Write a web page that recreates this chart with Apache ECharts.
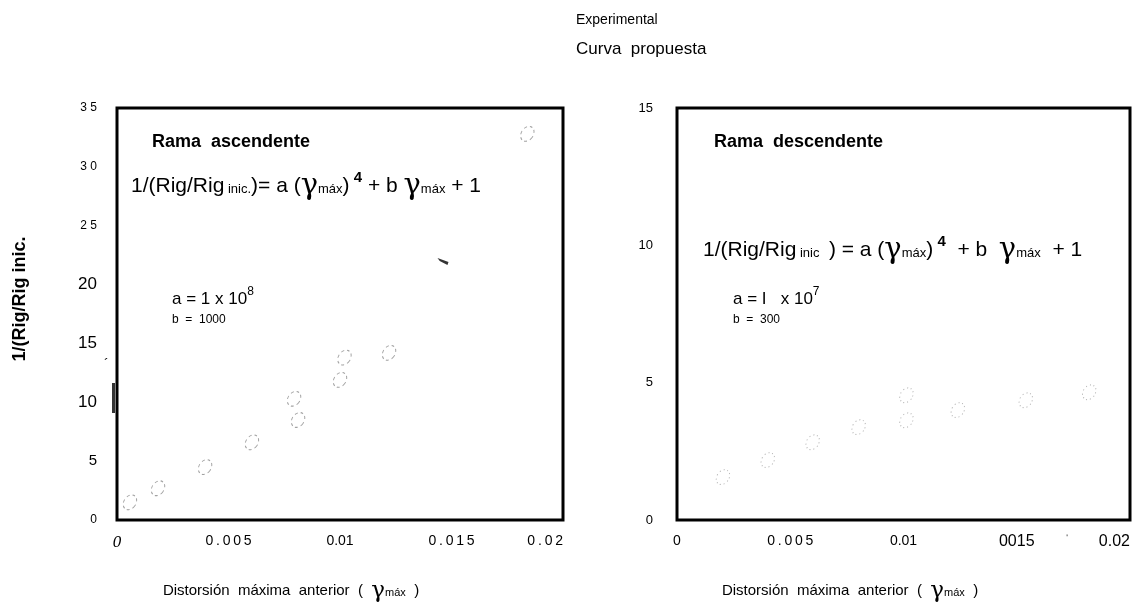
<!DOCTYPE html>
<html>
<head>
<meta charset="utf-8">
<script src="https://cdn.jsdelivr.net/npm/echarts@6/dist/echarts.min.js"></script>
<style>
html,body{margin:0;padding:0;background:#fff;}
#chart{width:1142px;height:608px;}
</style>
</head>
<body>
<div id="chart"></div>
<script>
// ---- data ----
const ascX = [0.00058, 0.00184, 0.00395, 0.00605, 0.00812, 0.00794, 0.0100, 0.0102, 0.0122, 0.0184];
const ascY = [1.5, 2.7, 4.5, 6.6, 8.5, 10.3, 11.9, 13.8, 14.2, 32.8];
const descX = [0.00203, 0.00401, 0.00599, 0.00802, 0.01013, 0.01013, 0.0124, 0.0154, 0.0182];
const descY = [1.56, 2.18, 2.83, 3.38, 3.63, 4.54, 4.0, 4.36, 4.65];
const curveFragX = [0.01462];
const curveFragY = [21.95];

const leftYTickValues = [0, 5, 10, 15, 20, 25, 30, 35];
const leftYTickText = ['0', '5', '10', '15', '20', '2 5', '3 0', '3 5'];
const leftYTickStyle = ['s', 'm', 'b', 'b', 'b', 's', 's', 's'];
const rightYTickValues = [0, 5, 10, 15];
const rightYTickText = ['0', '5', '10', '15'];
const leftXTickValues = [0, 0.005, 0.01, 0.015, 0.02];
const leftXTickText = ['0', '0\u2009.\u20090\u20090\u20095', '0.01', '0\u2009.\u20090\u20091\u20095', '0\u2009.\u20090\u20092'];
const leftXTickStyle = ['i', 'n', 'n', 'n', 'n'];
const rightXTickValues = [0, 0.005, 0.01, 0.015, 0.02];
const rightXTickText = ['0', '0\u2009.\u20090\u20090\u20095', '0.01', '0015', '0.02'];
const rightXTickStyle = ['n', 'n', 'n', 'b', 'b'];

const seriesNames = ['Experimental', 'Curva propuesta'];

function zip(xs, ys) { return xs.map((x, i) => [x, ys[i]]); }
function lookup(vals, v) {
  for (let i = 0; i < vals.length; i++) if (Math.abs(vals[i] - v) < 1e-9) return i;
  return -1;
}

const FONT = 'Liberation Sans, Arial, sans-serif';
const chart = echarts.init(document.getElementById('chart'), null, {renderer: 'canvas'});

const eqRich = {
  m: {fontSize: 21, fontFamily: FONT, color: '#000'},
  s: {fontSize: 13, fontFamily: FONT, color: '#000', padding: [6, 0, 0, 0]},
  g: {fontSize: 29, fontFamily: 'DejaVu Serif, serif', color: '#000'},
  sup: {fontSize: 15, fontFamily: FONT, fontWeight: 'bold', color: '#000', padding: [0, 0, 18, 0]}
};
const aRich = {
  m: {fontSize: 17, fontFamily: FONT, color: '#000'},
  sup: {fontSize: 12, fontFamily: FONT, color: '#000', padding: [0, 0, 14, 0]}
};
const titleRich = {
  m: {fontSize: 15, fontFamily: FONT, color: '#000'},
  g: {fontSize: 23, fontFamily: 'DejaVu Serif, serif', color: '#000'},
  s: {fontSize: 11, fontFamily: FONT, color: '#000', padding: [4, 0, 0, 0]}
};

const option = {
  backgroundColor: '#fff',
  animation: false,
  legend: {
    data: seriesNames,
    orient: 'vertical',
    left: 566,
    top: 8,
    itemWidth: 0,
    itemHeight: 0,
    itemGap: 14,
    selectedMode: false,
    icon: 'none',
    formatter: function (name) { return name === 'Experimental' ? '{e|' + name + '}' : '{c|Curva  propuesta}'; },
    textStyle: {
      rich: {
        e: {fontSize: 14, fontFamily: FONT, color: '#000'},
        c: {fontSize: 17, fontFamily: FONT, color: '#000'}
      }
    }
  },
  grid: [
    {left: 117, top: 108, width: 446, height: 412, show: true, borderColor: '#000', borderWidth: 3, backgroundColor: 'transparent'},
    {left: 677, top: 108, width: 453, height: 412, show: true, borderColor: '#000', borderWidth: 3, backgroundColor: 'transparent'}
  ],
  xAxis: [
    {
      gridIndex: 0, type: 'value', min: 0, max: 0.02, interval: 0.005,
      axisLine: {show: false}, axisTick: {show: false}, splitLine: {show: false},
      axisLabel: {
        margin: 14, alignMaxLabel: 'right',
        formatter: function (v) {
          const i = lookup(leftXTickValues, v);
          return i < 0 ? '' : '{' + leftXTickStyle[i] + '|' + leftXTickText[i] + '}';
        },
        rich: {
          n: {fontSize: 14, fontFamily: FONT, color: '#000'},
          i: {fontSize: 17, fontFamily: 'Liberation Serif, serif', fontStyle: 'italic', color: '#000'}
        }
      }
    },
    {
      gridIndex: 1, type: 'value', min: 0, max: 0.02, interval: 0.005,
      axisLine: {show: false}, axisTick: {show: false}, splitLine: {show: false},
      axisLabel: {
        margin: 14, alignMaxLabel: 'right',
        formatter: function (v) {
          const i = lookup(rightXTickValues, v);
          return i < 0 ? '' : '{' + rightXTickStyle[i] + '|' + rightXTickText[i] + '}';
        },
        rich: {
          n: {fontSize: 14, fontFamily: FONT, color: '#000'},
          b: {fontSize: 16, fontFamily: FONT, color: '#000'}
        }
      }
    }
  ],
  yAxis: [
    {
      gridIndex: 0, type: 'value', min: 0, max: 35, interval: 5,
      axisLine: {show: false}, axisTick: {show: false}, splitLine: {show: false},
      axisLabel: {
        margin: 20,
        formatter: function (v) {
          const i = lookup(leftYTickValues, v);
          return i < 0 ? '' : '{' + leftYTickStyle[i] + '|' + leftYTickText[i] + '}';
        },
        rich: {
          s: {fontSize: 12, fontFamily: FONT, color: '#000'},
          m: {fontSize: 15, fontFamily: FONT, color: '#000'},
          b: {fontSize: 17, fontFamily: FONT, color: '#000'}
        }
      }
    },
    {
      gridIndex: 1, type: 'value', min: 0, max: 15, interval: 5,
      axisLine: {show: false}, axisTick: {show: false}, splitLine: {show: false},
      axisLabel: {
        margin: 24, fontSize: 13, fontFamily: FONT, color: '#000',
        formatter: function (v) {
          const i = lookup(rightYTickValues, v);
          return i < 0 ? '' : rightYTickText[i];
        }
      }
    }
  ],
  series: [
    {
      name: 'Experimental', type: 'scatter', xAxisIndex: 0, yAxisIndex: 0,
      data: zip(ascX, ascY),
      symbol: 'circle', symbolSize: [12, 16], symbolRotate: -35,
      itemStyle: {color: 'rgba(0,0,0,0)', borderColor: '#8a8a8a', borderWidth: 1, borderType: [3, 3]}
    },
    {
      name: 'Experimental', type: 'scatter', xAxisIndex: 1, yAxisIndex: 1,
      data: zip(descX, descY),
      symbol: 'circle', symbolSize: [12, 16], symbolRotate: -35,
      itemStyle: {color: 'rgba(0,0,0,0)', borderColor: '#9a9a9a', borderWidth: 1, borderType: [1, 3]}
    },
    {
      name: 'Curva propuesta', type: 'scatter', xAxisIndex: 0, yAxisIndex: 0,
      data: zip(curveFragX, curveFragY),
      symbol: 'path://M0,0 L10,4 L9,7 L2,3 Z', symbolSize: [11, 7],
      itemStyle: {color: '#000'}
    }
  ],
  graphic: [
    {type: 'text', x: 20, y: 299, rotation: Math.PI / 2,
      style: {text: '1/(Rig/Rig inic.', font: 'bold 18px ' + FONT, fill: '#000', align: 'center', verticalAlign: 'middle'}},
    {type: 'text', x: 152, y: 133, style: {text: 'Rama  ascendente', font: 'bold 18px ' + FONT, fill: '#000'}},
    {type: 'text', x: 131, y: 170, style: {text: '{m|1/(Rig/Rig}{s| inic.}{m|)= a (}{g|γ}{s|máx}{m|)}{sup| 4}{m| + b }{g|γ}{s|máx}{m| + 1}', rich: eqRich}},
    {type: 'text', x: 172, y: 286, style: {text: '{m|a = 1 x 10}{sup|8}', rich: aRich}},
    {type: 'text', x: 172, y: 314, style: {text: 'b  =  1000', font: '12px ' + FONT, fill: '#000'}},
    {type: 'text', x: 714, y: 133, style: {text: 'Rama  descendente', font: 'bold 18px ' + FONT, fill: '#000'}},
    {type: 'text', x: 703, y: 234, style: {text: '{m|1/(Rig/Rig}{s| inic }{m| ) = a (}{g|γ}{s|máx}{m|)}{sup| 4}{m|  + b  }{g|γ}{s|máx}{m|  + 1}', rich: eqRich}},
    {type: 'text', x: 733, y: 286, style: {text: '{m|a = I   x 10}{sup|7}', rich: aRich}},
    {type: 'text', x: 733, y: 314, style: {text: 'b  =  300', font: '12px ' + FONT, fill: '#000'}},
    {type: 'text', x: 291, y: 591, style: {text: '{m|Distorsión  máxima  anterior  (  }{g|γ}{s|máx}{m|  )}', align: 'center', verticalAlign: 'middle', rich: titleRich}},
    {type: 'text', x: 850, y: 591, style: {text: '{m|Distorsión  máxima  anterior  (  }{g|γ}{s|máx}{m|  )}', align: 'center', verticalAlign: 'middle', rich: titleRich}},
    {type: 'text', x: 104, y: 358, style: {text: '´', font: '14px ' + FONT, fill: '#000'}},
    {type: 'text', x: 1066, y: 534, style: {text: '‘', font: '10px ' + FONT, fill: '#555'}},
    {type: 'rect', shape: {x: 112, y: 383, width: 3, height: 30}, style: {fill: '#333'}}
  ]
};
chart.setOption(option);
</script>
</body>
</html>
